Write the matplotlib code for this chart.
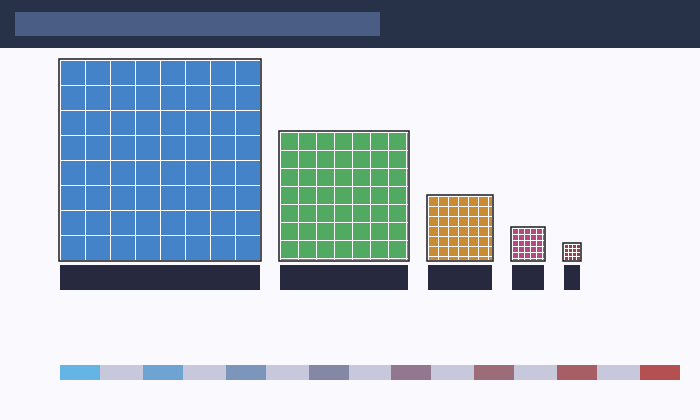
import matplotlib
matplotlib.use("Agg")
import matplotlib.pyplot as plt
from matplotlib.patches import Rectangle
import math

# ---- data ----
sides = [200, 128, 64, 32, 16]          # square side (px units)
units = [25, 18, 10, 6, 4]              # grid unit per square
fills = ["#4583c8", "#52aa62", "#c98c35", "#b54a80", "#9c3e45"]
strip_colors = ["#64b4e6", "#6fa4d2", "#7b96ba", "#8588a5",
                "#92778e", "#9c6c78", "#a75f65", "#b4504f"]
strip_gap = "#c8c8dc"

BG = "#f9f9fe"
fig = plt.figure(figsize=(7, 4.2), dpi=100)
fig.patch.set_facecolor(BG)
ax = fig.add_axes([0, 0, 1, 1])
ax.set_xlim(0, 700)
ax.set_ylim(420, 0)
ax.axis("off")
ax.set_facecolor(BG)

# header
ax.add_patch(Rectangle((0, 0), 700, 48, facecolor="#273147", edgecolor="none"))
ax.add_patch(Rectangle((15, 12), 365, 24, facecolor="#4a5d85", edgecolor="none"))

base = 260
x = 60
gap = 20
for side, u, c in zip(sides, units, fills):
    top = base - side
    # frame
    ax.add_patch(Rectangle((x - 1, top - 1), side + 2, side + 2, facecolor="white",
                           edgecolor="#1e1e24", lw=1.1))
    n = math.ceil(side / u)
    for i in range(n):
        for j in range(n):
            cx0 = x + i * u + 1
            cy0 = top + j * u + 1
            cx1 = min(x + (i + 1) * u, x + side)
            cy1 = min(top + (j + 1) * u, top + side)
            if cx1 > cx0 and cy1 > cy0:
                ax.add_patch(Rectangle((cx0, cy0), cx1 - cx0, cy1 - cy0,
                                       facecolor=c, edgecolor="none", lw=0))
    # label box
    ax.add_patch(Rectangle((x, 265), side, 25, facecolor="#272a3e", edgecolor="none"))
    x += side + gap

# bottom strip: coloured blocks of 40 with grey spacers filling the rest
n_col = len(strip_colors)
cw = 40
gw = (620 - n_col * cw) / (n_col - 1)
sx = 60
for k, col in enumerate(strip_colors):
    ax.add_patch(Rectangle((sx, 365), cw + 0.3, 15, facecolor=col,
                           edgecolor="none", lw=0))
    sx += cw
    if k < n_col - 1:
        ax.add_patch(Rectangle((sx, 365), gw + 0.3, 15, facecolor=strip_gap,
                               edgecolor="none", lw=0))
        sx += gw

fig.savefig("out.png", dpi=100, facecolor=BG)
